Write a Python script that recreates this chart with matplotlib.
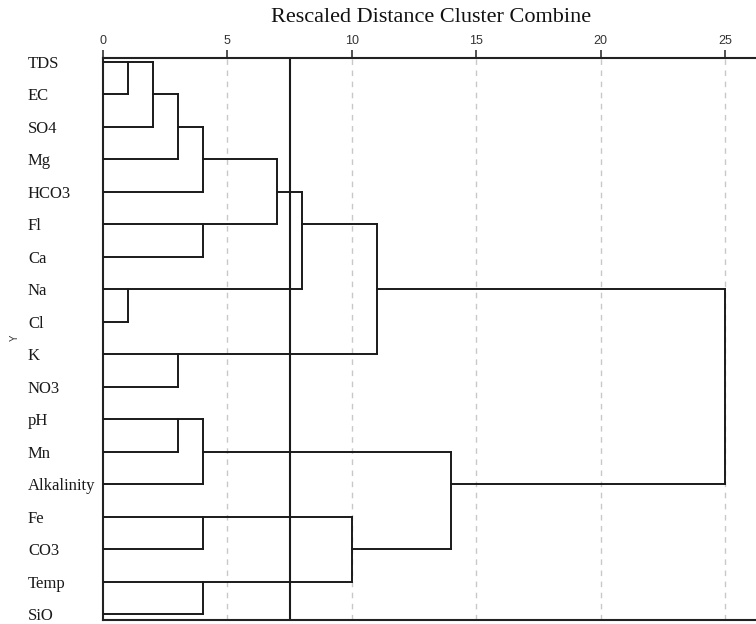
import matplotlib
matplotlib.use('Agg')
import matplotlib.pyplot as plt

# leaves in dendrogram order (top to bottom)
labels = ['TDS', 'EC', 'SO4', 'Mg', 'HCO3', 'Fl', 'Ca', 'Na', 'Cl', 'K', 'NO3',
          'pH', 'Mn', 'Alkalinity', 'Fe', 'CO3', 'Temp', 'SiO']

# merge table: cluster a, cluster b, rescaled distance (new ids start at 18)
merge_a = [0, 18, 19, 20, 5, 21, 7, 23, 9, 25, 11, 28, 14, 16, 30, 29, 27]
merge_b = [1, 2, 3, 4, 6, 22, 8, 24, 10, 26, 12, 13, 15, 17, 31, 32, 33]
merge_d = [1, 2, 3, 4, 4, 7, 1, 8, 3, 11, 3, 4, 4, 4, 10, 14, 25]

cut_level = 7.5
xticks = [0, 5, 10, 15, 20, 25]

fig = plt.figure(figsize=(7.56, 6.24), dpi=100)
ax = fig.add_axes([103/756, 4/624, 1 - 103/756, (620 - 58)/624])

n = len(labels)
row = {i: i for i in range(n)}
height = {i: 0 for i in range(n)}
parent_d = {}
for k in range(len(merge_a)):
    parent_d[merge_a[k]] = merge_d[k]
    parent_d[merge_b[k]] = merge_d[k]

lc = '#1a1a1a'
lw = 1.4
for k in range(len(merge_a)):
    a, b, d = merge_a[k], merge_b[k], merge_d[k]
    ra, rb = row[a], row[b]
    ax.plot([d, d], [ra, rb], color=lc, lw=lw, solid_capstyle='projecting', zorder=3)
    new = n + k
    row[new] = (ra + rb) // 2
    height[new] = d

# horizontal links from each cluster to its parent merge
for c, d_par in parent_d.items():
    ax.plot([height[c], d_par], [row[c], row[c]], color=lc, lw=lw,
            solid_capstyle='projecting', zorder=3)

# dashed guides and cut line
for t in xticks[1:]:
    ax.axvline(t, color='#c8c8c8', lw=1, ls=(0, (4, 4)), zorder=1)
ax.axvline(cut_level, color=lc, lw=1.5, zorder=2)

ax.set_xlim(0, 26.25)
ax.set_ylim(n - 1 + 0.18, -0.12)

ax.xaxis.tick_top()
ax.set_xticks(xticks)
ax.set_xticklabels([str(t) for t in xticks], fontfamily='Liberation Sans', fontsize=9,
                   color='#333333')
ax.tick_params(axis='x', length=6, width=1.2, color='#333333', pad=2)

ax.set_yticks(range(n))
ax.set_yticklabels(labels, fontfamily='Liberation Serif', fontsize=12, ha='left', color='#1a1a1a')
ax.tick_params(axis='y', length=0, pad=54)

for s in ['top', 'bottom', 'left']:
    ax.spines[s].set_color('#222222')
    ax.spines[s].set_linewidth(1.5)
ax.spines['right'].set_visible(False)

fig.text(15/756, 1 - 338/624, 'Y', rotation=90, fontfamily='Liberation Sans', fontsize=7,
         ha='center', va='center', color='#333333')
fig.text(431/756, 1 - 17/624, 'Rescaled Distance Cluster Combine', fontfamily='Liberation Serif',
         fontsize=16, ha='center', va='center', color='#111111')

fig.savefig('out.png', dpi=100)
